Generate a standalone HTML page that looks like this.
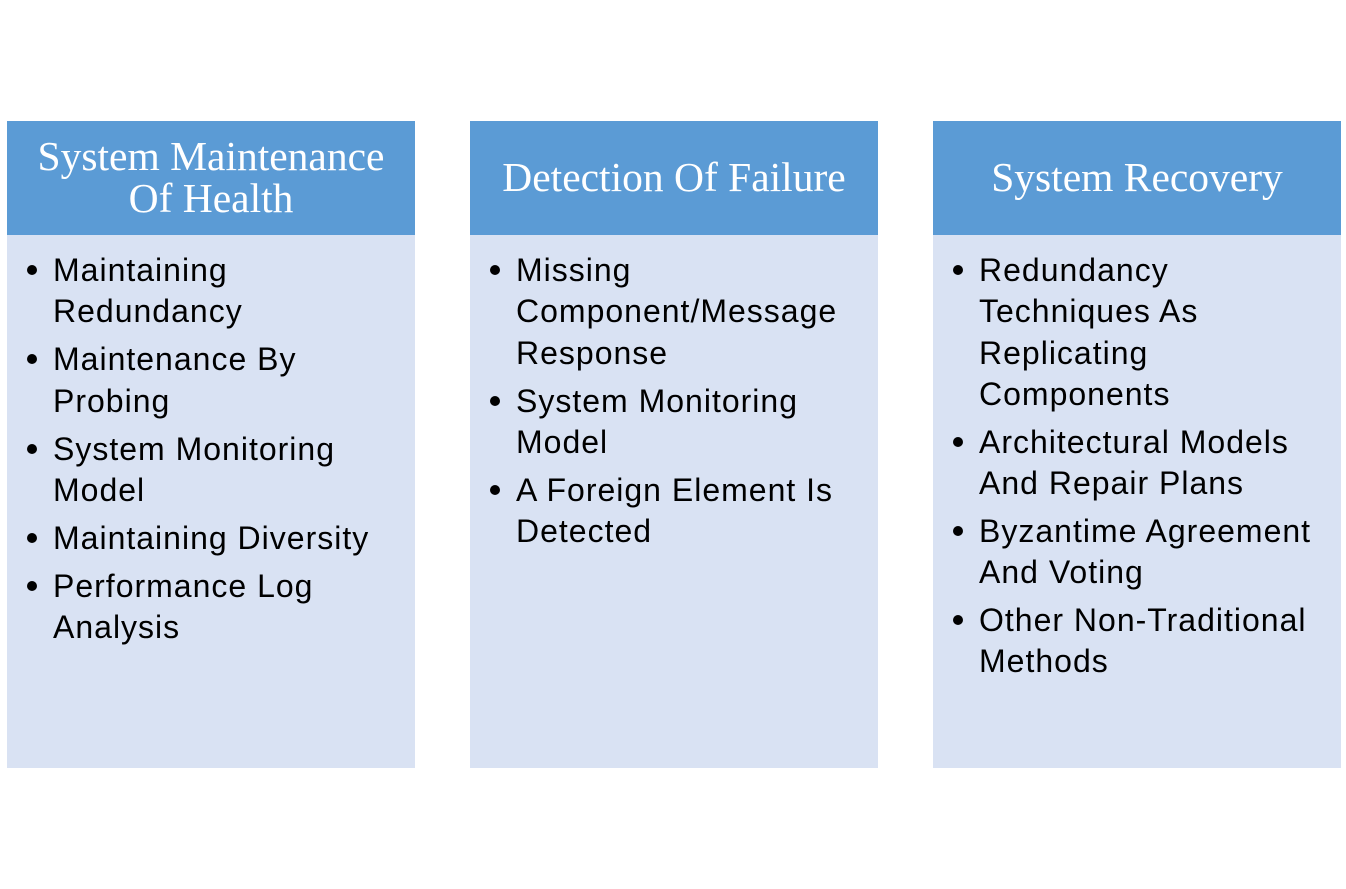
<!DOCTYPE html>
<html><head><meta charset="utf-8"><style>
body{margin:0;width:1346px;height:889px;background:#fff;position:relative;overflow:hidden}
.col{position:absolute;top:121px;width:408px;height:647px;background:#d9e2f3}
.hd{position:absolute;left:0;top:0;width:408px;height:111px;padding-bottom:3px;background:#5b9bd5;color:#fff;font-family:"Liberation Serif",serif;font-size:41.5px;line-height:42px;display:flex;align-items:center;justify-content:center;text-align:center;white-space:nowrap}
.l{position:absolute;left:46px;font-family:"Liberation Sans",sans-serif;font-size:32px;line-height:40px;color:#000;white-space:nowrap;letter-spacing:1px}
.b{position:absolute;left:20px;width:10px;height:10px;border-radius:50%;background:#000}
</style></head><body>
<div class="col" style="left:7px">
<div class="hd">System Maintenance<br>Of Health</div>
<div class="b" style="top:144px"></div><div class="l" style="top:129px">Maintaining</div>
<div class="l" style="top:170px">Redundancy</div>
<div class="b" style="top:233px"></div><div class="l" style="top:218px">Maintenance By</div>
<div class="l" style="top:260px">Probing</div>
<div class="b" style="top:323px"></div><div class="l" style="top:308px">System Monitoring</div>
<div class="l" style="top:349px">Model</div>
<div class="b" style="top:412px"></div><div class="l" style="top:397px">Maintaining Diversity</div>
<div class="b" style="top:460px"></div><div class="l" style="top:445px">Performance Log</div>
<div class="l" style="top:486px">Analysis</div>
</div>
<div class="col" style="left:470px">
<div class="hd">Detection Of Failure</div>
<div class="b" style="top:144px"></div><div class="l" style="top:129px">Missing</div>
<div class="l" style="top:170px">Component/Message</div>
<div class="l" style="top:212px">Response</div>
<div class="b" style="top:275px"></div><div class="l" style="top:260px">System Monitoring</div>
<div class="l" style="top:301px">Model</div>
<div class="b" style="top:364px"></div><div class="l" style="top:349px">A Foreign Element Is</div>
<div class="l" style="top:390px">Detected</div>
</div>
<div class="col" style="left:933px">
<div class="hd">System Recovery</div>
<div class="b" style="top:144px"></div><div class="l" style="top:129px">Redundancy</div>
<div class="l" style="top:170px">Techniques As</div>
<div class="l" style="top:212px">Replicating</div>
<div class="l" style="top:253px">Components</div>
<div class="b" style="top:316px"></div><div class="l" style="top:301px">Architectural Models</div>
<div class="l" style="top:342px">And Repair Plans</div>
<div class="b" style="top:405px"></div><div class="l" style="top:390px">Byzantime Agreement</div>
<div class="l" style="top:431px">And Voting</div>
<div class="b" style="top:494px"></div><div class="l" style="top:479px">Other Non-Traditional</div>
<div class="l" style="top:520px">Methods</div>
</div>
</body></html>
